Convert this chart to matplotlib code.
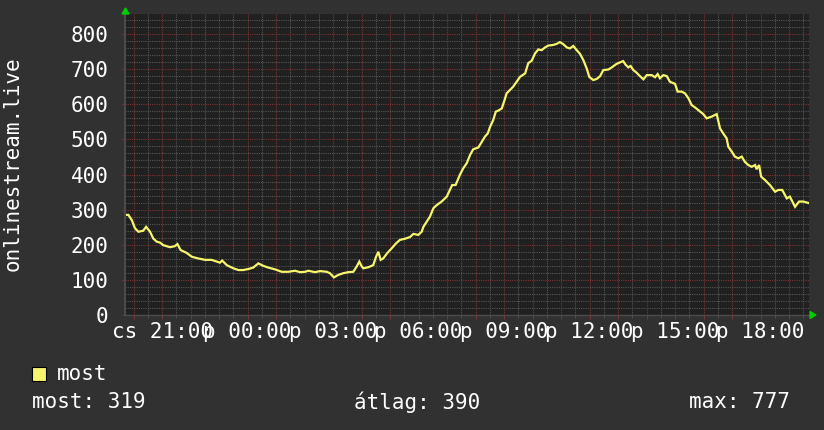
import matplotlib
matplotlib.use("Agg")
import matplotlib.pyplot as plt
from matplotlib.ticker import MultipleLocator
import numpy as np

# Time in hours since Thursday 00:00 (24 = Friday 00:00)
hours = [19.70, 19.82, 19.94, 20.05, 20.17, 20.34, 20.44, 20.58, 20.69, 20.81,
         20.93, 21.04, 21.28, 21.45, 21.54, 21.65, 21.86, 22.04, 22.27, 22.51,
         22.74, 22.92, 23.03, 23.11, 23.27, 23.50, 23.68, 23.85, 24.03, 24.20,
         24.38, 24.55, 24.73, 24.96, 25.20, 25.43, 25.67, 25.84, 26.02, 26.13,
         26.37, 26.54, 26.78, 26.89, 27.03, 27.18, 27.36, 27.54, 27.71, 27.83,
         27.92, 28.01, 28.06, 28.24, 28.41, 28.51, 28.59, 28.67, 28.76, 28.90,
         29.06, 29.21, 29.35, 29.52, 29.70, 29.82, 29.99, 30.11, 30.17, 30.29,
         30.40, 30.52, 30.64, 30.81, 30.99, 31.10, 31.18, 31.30, 31.45, 31.57,
         31.69, 31.81, 31.92, 32.10, 32.22, 32.33, 32.43, 32.51, 32.62, 32.71,
         32.80, 32.92, 33.01, 33.09, 33.32, 33.56, 33.74, 33.85, 33.97, 34.09,
         34.20, 34.32, 34.44, 34.55, 34.73, 34.85, 34.96, 35.08, 35.20, 35.31,
         35.43, 35.55, 35.67, 35.78, 35.90, 35.99, 36.13, 36.25, 36.37, 36.48,
         36.66, 36.78, 36.95, 37.07, 37.18, 37.27, 37.36, 37.44, 37.54, 37.65,
         37.77, 37.89, 38.01, 38.18, 38.30, 38.39, 38.47, 38.59, 38.71, 38.82,
         39.00, 39.09, 39.23, 39.35, 39.47, 39.58, 39.70, 39.88, 39.99, 40.11,
         40.29, 40.46, 40.58, 40.69, 40.81, 40.87, 40.99, 41.10, 41.22, 41.34,
         41.45, 41.57, 41.69, 41.81, 41.86, 41.95, 42.02, 42.16, 42.33, 42.51,
         42.62, 42.76, 42.92, 43.03, 43.21, 43.35, 43.50, 43.68]
most = [285, 285, 270, 247, 237, 240, 251, 237, 218, 209,
        206, 199, 193, 196, 202, 185, 177, 166, 161, 157,
        157, 152, 149, 155, 142, 133, 128, 128, 131, 135,
        147, 140, 135, 130, 123, 123, 126, 122, 123, 126,
        122, 125, 123, 119, 107, 114, 119, 122, 123, 138,
        152, 138, 133, 136, 142, 166, 180, 157, 161, 176,
        190, 204, 214, 217, 222, 231, 228, 237, 251, 266,
        280, 304, 313, 323, 337, 356, 370, 370, 399, 418,
        432, 456, 472, 477, 493, 508, 517, 536, 555, 579,
        582, 588, 610, 631, 650, 678, 688, 717, 724, 745,
        756, 754, 762, 767, 769, 772, 777, 771, 762, 759,
        766, 754, 743, 726, 702, 678, 669, 672, 680, 697,
        699, 705, 715, 719, 723, 712, 705, 709, 697, 690,
        680, 671, 683, 683, 677, 686, 674, 683, 680, 664,
        658, 636, 636, 631, 617, 598, 591, 579, 572, 560,
        565, 572, 531, 517, 503, 479, 465, 451, 446, 451,
        436, 427, 422, 427, 415, 427, 394, 384, 370, 351,
        356, 356, 332, 337, 308, 323, 323, 319]

tick_hours = [21, 24, 27, 30, 33, 36, 39, 42]
tick_labels = ["cs 21:00", "p 00:00", "p 03:00", "p 06:00",
               "p 09:00", "p 12:00", "p 15:00", "p 18:00"]
y_ticks = [0, 100, 200, 300, 400, 500, 600, 700, 800]

series_name = "most"
y_title = "onlinestream.live"
stat_labels = ["most: 319", "átlag: 390", "max: 777"]

BG = "#313131"
CANVAS = "#202020"
MINOR = "#555555"
MAJOR = "#7a3434"
LINE = "#f7f56c"
FONT = "DejaVu Sans Mono"
FS = 15

plt.rcParams['font.family'] = [FONT, 'DejaVu Sans']

fig = plt.figure(figsize=(8.24, 4.30), dpi=100, facecolor=BG)
W, H = 824, 430
L, R, T, B = 125, 809, 14, 315
ax = fig.add_axes([L / W, 1 - B / H, (R - L) / W, (B - T) / H])
ax.set_facecolor(CANVAS)

ax.set_xlim(19.70, 43.70)
ax.set_ylim(0, 857)

ax.xaxis.set_minor_locator(MultipleLocator(0.5))
ax.yaxis.set_minor_locator(MultipleLocator(20))
major_x = np.arange(20, 44, 1)
ax.set_xticks(major_x)
ax.set_xticklabels([tick_labels[tick_hours.index(h)] if h in tick_hours else "" for h in major_x])
ax.set_yticks(y_ticks)
ax.set_yticklabels([str(v) for v in y_ticks])

ax.grid(which='minor', color=MINOR, linestyle=(0, (1, 1)), linewidth=0.8)
ax.grid(which='major', color=MAJOR, linestyle=(0, (1, 1)), linewidth=0.8)
ax.set_axisbelow(True)

for s in ['top', 'right']:
    ax.spines[s].set_visible(False)
ax.spines['left'].set_color("#4a4a4a")
ax.spines['bottom'].set_color("#4a4a4a")
ax.spines['left'].set_linewidth(1.5)
ax.spines['bottom'].set_linewidth(1.0)

ax.tick_params(axis='x', which='major', length=3, color=MAJOR, labelcolor='white',
               labelsize=FS, pad=2)
ax.tick_params(axis='x', which='minor', length=2, color=MINOR)
ax.tick_params(axis='y', which='major', length=2, color=MAJOR, labelcolor='white',
               labelsize=FS, pad=10)
ax.tick_params(axis='y', which='minor', length=0)

ax.plot(hours, most, color=LINE, linewidth=1.6, solid_joinstyle='miter')

fig.text(13 / W, 1 - 164 / H, y_title, color='white', fontsize=FS, rotation=90,
         ha='center', va='center')

# green axis arrows
fig.patches.append(plt.Polygon([[122 / W, 1 - 14 / H], [129 / W, 1 - 14 / H], [125.5 / W, 1 - 8 / H]],
                               closed=True, transform=fig.transFigure, color="#00cc00"))
fig.patches.append(plt.Polygon([[810 / W, 1 - 311.5 / H], [810 / W, 1 - 318.5 / H], [816 / W, 1 - 315 / H]],
                               closed=True, transform=fig.transFigure, color="#00cc00"))

# legend
fig.patches.append(plt.Rectangle((32 / W, 1 - 381 / H), 14 / W, 14 / H, transform=fig.transFigure,
                                 facecolor=LINE, edgecolor="#000000", linewidth=0.8))
fig.text(57 / W, 1 - 374 / H, series_name, color='white', fontsize=FS, va='center', ha='left')
fig.text(32 / W, 1 - 402 / H, stat_labels[0], color='white', fontsize=FS, va='center', ha='left')
fig.text(354 / W, 1 - 402 / H, stat_labels[1], color='white', fontsize=FS, va='center', ha='left')
fig.text(790 / W, 1 - 402 / H, stat_labels[2], color='white', fontsize=FS, va='center', ha='right')

fig.savefig("out.png", dpi=100, facecolor=BG)
